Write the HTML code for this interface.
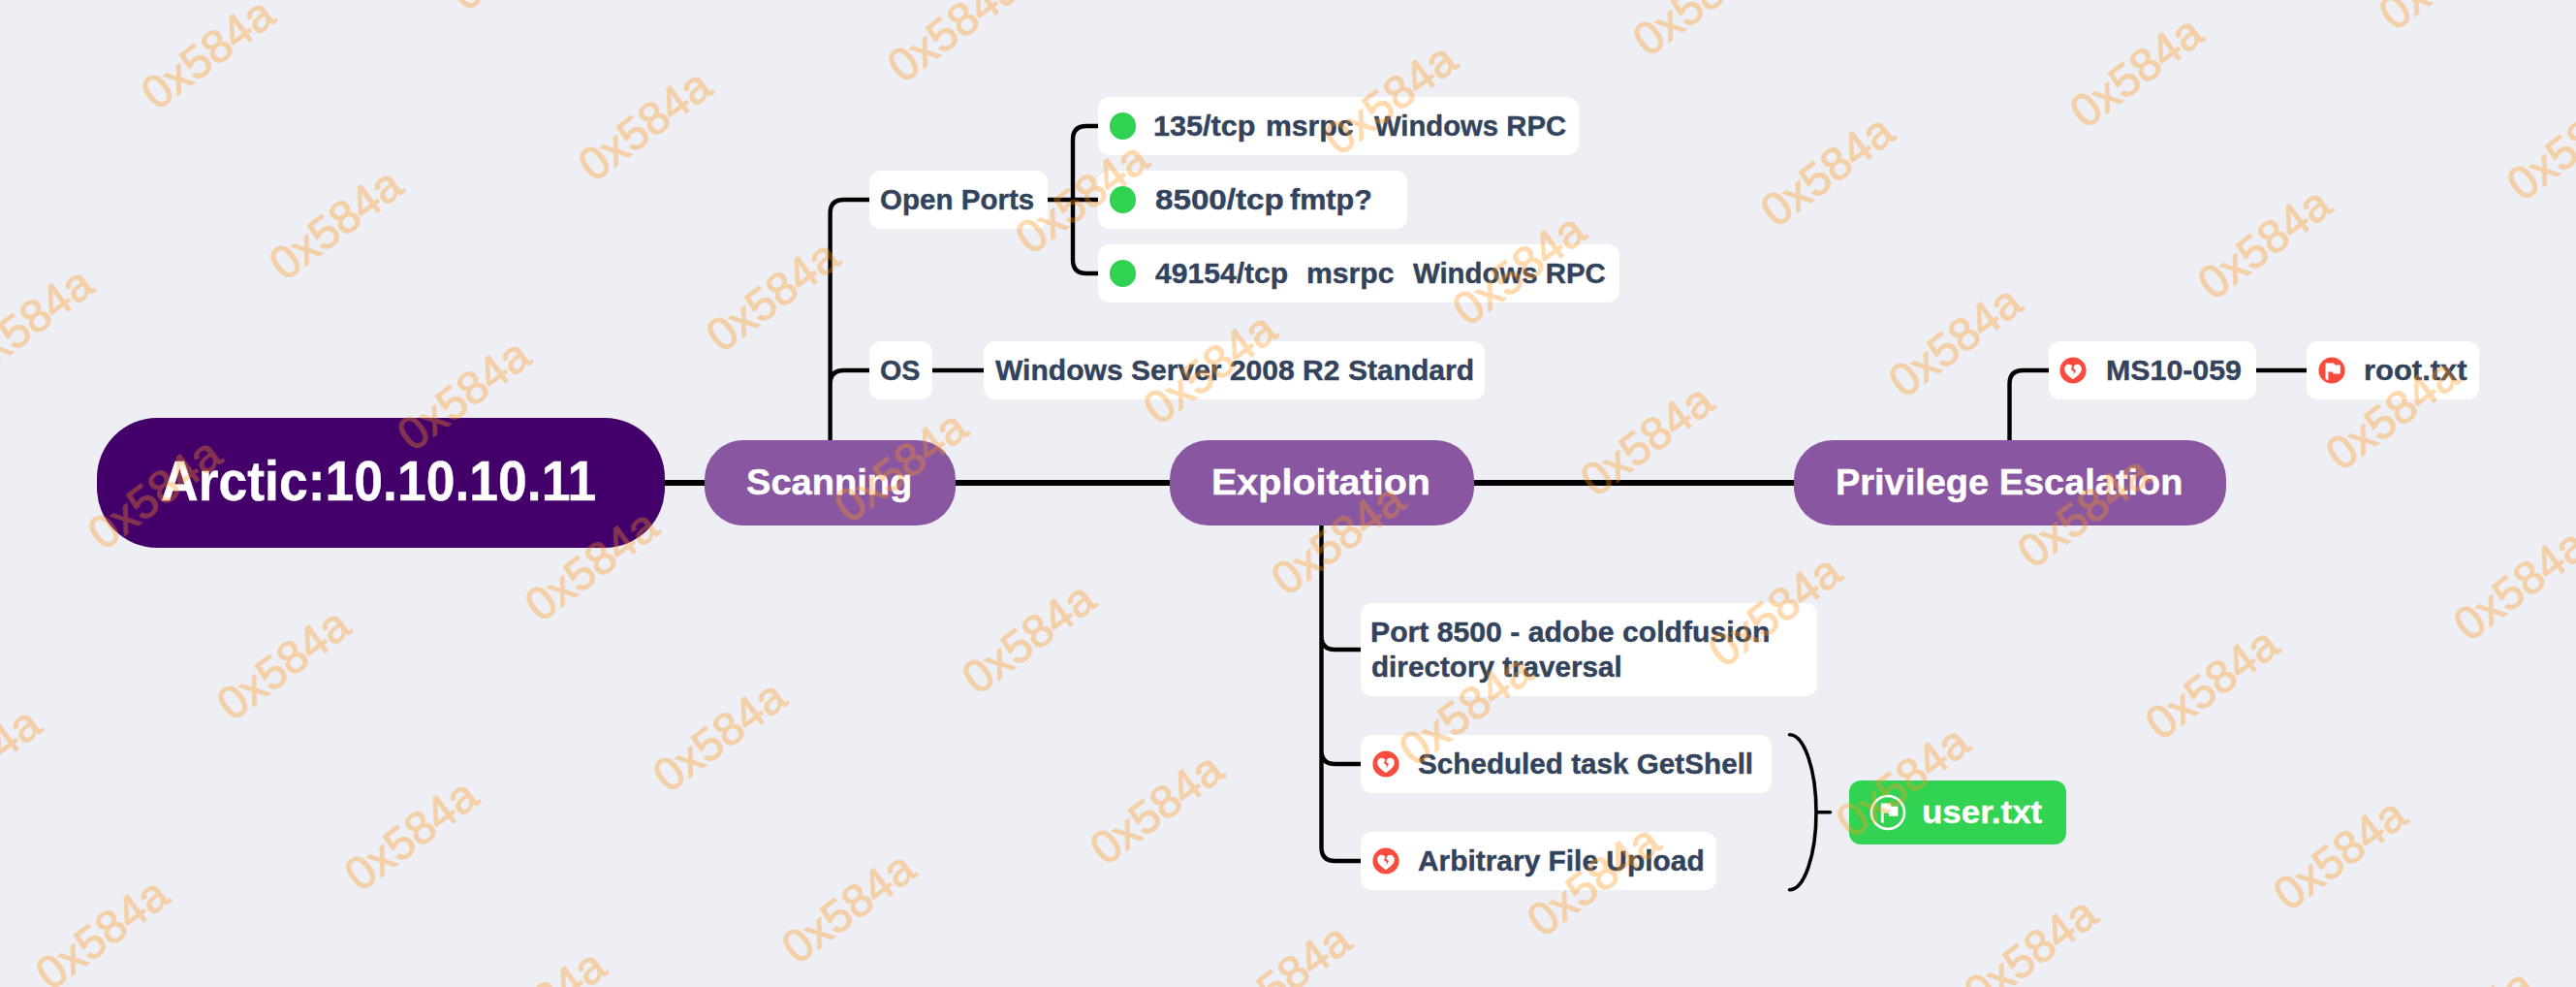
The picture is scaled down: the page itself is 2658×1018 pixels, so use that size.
<!DOCTYPE html>
<html><head><meta charset="utf-8"><title>Arctic:10.10.10.11</title>
<style>
html,body{margin:0;padding:0}
body{width:2658px;height:1018px;background:#eeeff4;position:relative;overflow:hidden;font-family:"Liberation Sans",sans-serif;font-weight:bold}
.n{position:absolute}
.t{position:absolute;white-space:pre;line-height:1;transform-origin:0 0;-webkit-text-stroke:.4px currentColor}
.w{position:absolute;white-space:pre;line-height:1;font-weight:normal;font-size:47.5px;color:rgb(255,150,25);-webkit-text-stroke:1.1px rgb(255,150,25);opacity:.34;width:200px;height:50px;margin:-25px 0 0 -100px;text-align:center;transform:rotate(-36.87deg)}
svg{position:absolute;left:0;top:0}
</style></head><body>
<svg width="2658" height="1018" viewBox="0 0 2658 1018" fill="none" stroke="#000" stroke-linecap="butt">
<path stroke-width="6" d="M680 498H730M980 498H1212M1515 498H1856"/>
<path stroke-width="4.4" d="M856.6 456V220 Q856.6 206 870.6 206H900M856.6 396 Q856.6 382 870.6 382H900M1078 206H1136M1136 130H1121 Q1107 130 1107 144 V268 Q1107 282 1121 282H1136M960 382H1018M1363.5 540V874 Q1363.5 888 1377.5 888H1407M1363.5 656 Q1363.5 670 1377.5 670H1407M1363.5 774 Q1363.5 788 1377.5 788H1407M2073.5 456V396 Q2073.5 382 2087.5 382H2117M2325 382H2383"/>
<path stroke-width="3.6" stroke-linecap="round" d="M1846.5 757.8A27.5 80 0 0 1 1874 837.8A27.5 80 0 0 1 1846.5 917.8M1874 837.8H1888.5"/>
</svg>
<div class="n" style="left:100px;top:431px;width:586px;height:134px;border-radius:62px;background:#43006b"></div>
<div class="n" style="left:727px;top:454px;width:259px;height:88px;border-radius:40px;background:#8957a1"></div>
<div class="n" style="left:1207px;top:454px;width:313.5px;height:88px;border-radius:40px;background:#8957a1"></div>
<div class="n" style="left:1851px;top:454px;width:445.5px;height:88px;border-radius:40px;background:#8957a1"></div>
<div class="n" style="left:896.5px;top:176px;width:184.5px;height:60px;border-radius:12px;background:#fff"></div>
<div class="n" style="left:1132.5px;top:100px;width:496px;height:60px;border-radius:12px;background:#fff"></div>
<div class="n" style="left:1132.5px;top:176px;width:319.5px;height:60px;border-radius:12px;background:#fff"></div>
<div class="n" style="left:1132.5px;top:252px;width:538px;height:60px;border-radius:12px;background:#fff"></div>
<div class="n" style="left:896.5px;top:352px;width:65.5px;height:60px;border-radius:12px;background:#fff"></div>
<div class="n" style="left:1014.5px;top:352px;width:517.5px;height:60px;border-radius:12px;background:#fff"></div>
<div class="n" style="left:1403.5px;top:622px;width:471.5px;height:96px;border-radius:12px;background:#fff"></div>
<div class="n" style="left:1403.5px;top:758px;width:424px;height:60px;border-radius:12px;background:#fff"></div>
<div class="n" style="left:1403.5px;top:858px;width:367.5px;height:60px;border-radius:12px;background:#fff"></div>
<div class="n" style="left:1907.5px;top:805px;width:224px;height:66px;border-radius:12px;background:#32d353"></div>
<div class="n" style="left:2113.5px;top:352px;width:214.5px;height:60px;border-radius:12px;background:#fff"></div>
<div class="n" style="left:2379.5px;top:352px;width:178px;height:60px;border-radius:12px;background:#fff"></div>
<div class="n" style="left:1145px;top:116.3px;width:27.4px;height:27.4px;border-radius:50%;background:#32d353"></div>
<div class="n" style="left:1145px;top:192.3px;width:27.4px;height:27.4px;border-radius:50%;background:#32d353"></div>
<div class="n" style="left:1145px;top:268.3px;width:27.4px;height:27.4px;border-radius:50%;background:#32d353"></div>
<svg class="n" style="left:1415.5px;top:774px" width="28" height="28" viewBox="0 0 28 28"><circle cx="14" cy="14" r="13.6" fill="#fa4b3e"/><path fill="#fff" d="M14 23.2C9.5 20 5.2 16.6 5.2 12.4C5.2 9.6 7.3 7.8 9.6 7.8C11.4 7.8 12.9 8.7 14 10.2C15.1 8.7 16.6 7.8 18.4 7.8C20.7 7.8 22.8 9.6 22.8 12.4C22.8 16.6 18.5 20 14 23.2Z"/><path fill="#fa4b3e" d="M13.6 8.8L15.3 8.8L14.3 12L17 14L14.6 18.6L14.8 15.2L12 13.2Z"/></svg>
<svg class="n" style="left:1415.5px;top:874px" width="28" height="28" viewBox="0 0 28 28"><circle cx="14" cy="14" r="13.6" fill="#fa4b3e"/><path fill="#fff" d="M14 23.2C9.5 20 5.2 16.6 5.2 12.4C5.2 9.6 7.3 7.8 9.6 7.8C11.4 7.8 12.9 8.7 14 10.2C15.1 8.7 16.6 7.8 18.4 7.8C20.7 7.8 22.8 9.6 22.8 12.4C22.8 16.6 18.5 20 14 23.2Z"/><path fill="#fa4b3e" d="M13.6 8.8L15.3 8.8L14.3 12L17 14L14.6 18.6L14.8 15.2L12 13.2Z"/></svg>
<svg class="n" style="left:2125.1px;top:368px" width="28" height="28" viewBox="0 0 28 28"><circle cx="14" cy="14" r="13.6" fill="#fa4b3e"/><path fill="#fff" d="M14 23.2C9.5 20 5.2 16.6 5.2 12.4C5.2 9.6 7.3 7.8 9.6 7.8C11.4 7.8 12.9 8.7 14 10.2C15.1 8.7 16.6 7.8 18.4 7.8C20.7 7.8 22.8 9.6 22.8 12.4C22.8 16.6 18.5 20 14 23.2Z"/><path fill="#fa4b3e" d="M13.6 8.8L15.3 8.8L14.3 12L17 14L14.6 18.6L14.8 15.2L12 13.2Z"/></svg>
<svg class="n" style="left:2391.8px;top:368px" width="28" height="28" viewBox="0 0 28 28"><circle cx="14" cy="14" r="13.6" fill="#fa4b3e"/><path fill="#fff" d="M7.5 6.4H16.3L17.1 8.4H22.8V17.4H15.6L14.8 15.5H10.4V24.3L7.5 23.1Z"/></svg>
<svg class="n" style="left:1927.5px;top:817.9px" width="40" height="40" viewBox="0 0 40 40"><circle cx="20" cy="20" r="17" fill="none" stroke="#fff" stroke-width="2.6"/><path fill="#fff" d="M12.8 10.5H22.9L23.7 13.7H30.4V23.7H21.4L20.6 20.5H15.7V31.2L12.8 30Z"/></svg>
<div class="t" style="left:166.31px;top:468.51px;font-size:56.7px;color:#fff;transform:scaleX(0.9441)">Arctic:10.10.10.11</div>
<div class="t" style="left:769.99px;top:478.64px;font-size:37.6px;color:#fff;transform:scaleX(1.0133)">Scanning</div>
<div class="t" style="left:1250.40px;top:478.64px;font-size:37.6px;color:#fff;transform:scaleX(1.0507)">Exploitation</div>
<div class="t" style="left:1893.68px;top:478.64px;font-size:37.6px;color:#fff;transform:scaleX(1.0094)">Privilege Escalation</div>
<div class="t" style="left:907.87px;top:191.69px;font-size:28.6px;color:#33435c;transform:scaleX(1.0336)">Open Ports</div>
<div class="t" style="left:1190.06px;top:115.69px;font-size:28.6px;color:#33435c;transform:scaleX(1.0705)">135/tcp</div>
<div class="t" style="left:1306.39px;top:115.69px;font-size:28.6px;color:#33435c;transform:scaleX(1.0542)">msrpc</div>
<div class="t" style="left:1417.90px;top:115.69px;font-size:28.6px;color:#33435c;transform:scaleX(1.0233)">Windows RPC</div>
<div class="t" style="left:1191.84px;top:191.69px;font-size:28.6px;color:#33435c;transform:scaleX(1.1607)">8500/tcp</div>
<div class="t" style="left:1331.00px;top:191.69px;font-size:28.6px;color:#33435c;transform:scaleX(1.0679)">fmtp?</div>
<div class="t" style="left:1192.20px;top:267.69px;font-size:28.6px;color:#33435c;transform:scaleX(1.0519)">49154/tcp</div>
<div class="t" style="left:1347.69px;top:267.69px;font-size:28.6px;color:#33435c;transform:scaleX(1.0554)">msrpc</div>
<div class="t" style="left:1458.00px;top:267.69px;font-size:28.6px;color:#33435c;transform:scaleX(1.0269)">Windows RPC</div>
<div class="t" style="left:907.99px;top:367.69px;font-size:28.6px;color:#33435c;transform:scaleX(1.0051)">OS</div>
<div class="t" style="left:1026.70px;top:367.69px;font-size:28.6px;color:#33435c;transform:scaleX(1.0511)">Windows Server 2008 R2 Standard</div>
<div class="t" style="left:1414.39px;top:637.69px;font-size:28.6px;color:#33435c;transform:scaleX(1.0553)">Port 8500 - adobe coldfusion</div>
<div class="t" style="left:1415.46px;top:673.89px;font-size:28.6px;color:#33435c;transform:scaleX(1.0372)">directory traversal</div>
<div class="t" style="left:1462.96px;top:773.69px;font-size:28.6px;color:#33435c;transform:scaleX(1.0372)">Scheduled task GetShell</div>
<div class="t" style="left:1462.95px;top:873.69px;font-size:28.6px;color:#33435c;transform:scaleX(1.0454)">Arbitrary File Upload</div>
<div class="t" style="left:1983.01px;top:821.12px;font-size:33.5px;color:#fff;transform:scaleX(1.0427)">user.txt</div>
<div class="t" style="left:2172.98px;top:367.69px;font-size:28.6px;color:#33435c;transform:scaleX(1.0612)">MS10-059</div>
<div class="t" style="left:2438.54px;top:367.69px;font-size:28.6px;color:#33435c;transform:scaleX(1.0823)">root.txt</div>
<div class="w" style="left:-26.2px;top:787.8px">0x584a</div>
<div class="w" style="left:105.9px;top:963.9px">0x584a</div>
<div class="w" style="left:-103.8px;top:157.5px">0x584a</div>
<div class="w" style="left:28.3px;top:333.6px">0x584a</div>
<div class="w" style="left:160.4px;top:509.8px">0x584a</div>
<div class="w" style="left:292.5px;top:686.0px">0x584a</div>
<div class="w" style="left:424.6px;top:862.2px">0x584a</div>
<div class="w" style="left:556.8px;top:1038.3px">0x584a</div>
<div class="w" style="left:214.9px;top:55.7px">0x584a</div>
<div class="w" style="left:347.0px;top:231.9px">0x584a</div>
<div class="w" style="left:479.1px;top:408.0px">0x584a</div>
<div class="w" style="left:611.3px;top:584.2px">0x584a</div>
<div class="w" style="left:743.4px;top:760.4px">0x584a</div>
<div class="w" style="left:875.5px;top:936.5px">0x584a</div>
<div class="w" style="left:533.6px;top:-46.1px">0x584a</div>
<div class="w" style="left:665.8px;top:130.1px">0x584a</div>
<div class="w" style="left:797.9px;top:306.3px">0x584a</div>
<div class="w" style="left:930.0px;top:482.4px">0x584a</div>
<div class="w" style="left:1062.1px;top:658.6px">0x584a</div>
<div class="w" style="left:1194.2px;top:834.8px">0x584a</div>
<div class="w" style="left:1326.4px;top:1010.9px">0x584a</div>
<div class="w" style="left:984.5px;top:28.3px">0x584a</div>
<div class="w" style="left:1116.6px;top:204.5px">0x584a</div>
<div class="w" style="left:1248.7px;top:380.6px">0x584a</div>
<div class="w" style="left:1380.9px;top:556.8px">0x584a</div>
<div class="w" style="left:1513.0px;top:733.0px">0x584a</div>
<div class="w" style="left:1645.1px;top:909.2px">0x584a</div>
<div class="w" style="left:1777.2px;top:1085.3px">0x584a</div>
<div class="w" style="left:1303.2px;top:-73.5px">0x584a</div>
<div class="w" style="left:1435.4px;top:102.7px">0x584a</div>
<div class="w" style="left:1567.5px;top:278.9px">0x584a</div>
<div class="w" style="left:1699.6px;top:455.0px">0x584a</div>
<div class="w" style="left:1831.7px;top:631.2px">0x584a</div>
<div class="w" style="left:1963.8px;top:807.4px">0x584a</div>
<div class="w" style="left:2096.0px;top:983.5px">0x584a</div>
<div class="w" style="left:1754.1px;top:0.9px">0x584a</div>
<div class="w" style="left:1886.2px;top:177.1px">0x584a</div>
<div class="w" style="left:2018.3px;top:353.3px">0x584a</div>
<div class="w" style="left:2150.5px;top:529.4px">0x584a</div>
<div class="w" style="left:2282.6px;top:705.6px">0x584a</div>
<div class="w" style="left:2414.7px;top:881.8px">0x584a</div>
<div class="w" style="left:2546.8px;top:1057.9px">0x584a</div>
<div class="w" style="left:2205.0px;top:75.3px">0x584a</div>
<div class="w" style="left:2337.1px;top:251.5px">0x584a</div>
<div class="w" style="left:2469.2px;top:427.6px">0x584a</div>
<div class="w" style="left:2601.3px;top:603.8px">0x584a</div>
<div class="w" style="left:2733.4px;top:780.0px">0x584a</div>
<div class="w" style="left:2523.7px;top:-26.5px">0x584a</div>
<div class="w" style="left:2655.8px;top:149.7px">0x584a</div>
</body></html>
